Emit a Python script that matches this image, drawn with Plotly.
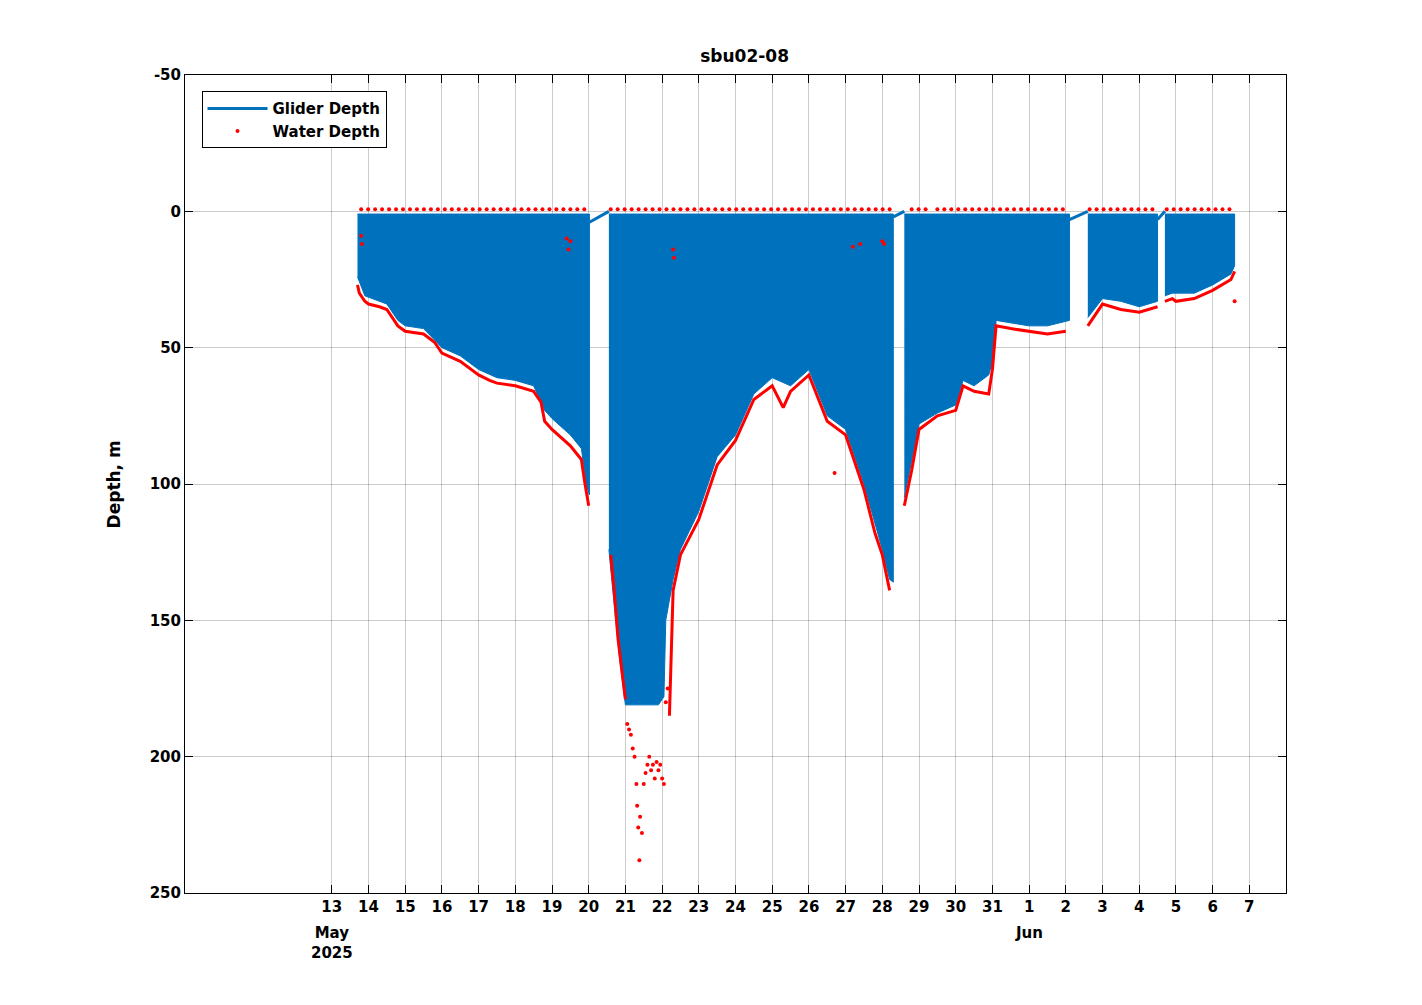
import numpy as np
import pandas as pd
import plotly.graph_objects as go

BASE = pd.Timestamp('2025-04-30')

# glider maximum dive depth per deployment segment (day of May, depth m); Jun d = 31 + d
glider_segments = [
    [(13.70, 24), (13.9, 31), (14.5, 34), (14.8, 40), (15.0, 42), (15.5, 43), (16.0, 50), (16.5, 53),
     (17.0, 58), (17.5, 61), (18.0, 62), (18.5, 64), (18.8, 73), (19.0, 76), (19.5, 82), (19.8, 87),
     (19.95, 101), (20.02, 104)],
    [(20.55, 124), (20.7, 145), (20.85, 165), (21.0, 181), (21.9, 181), (22.05, 178), (22.1, 150),
     (22.3, 135), (22.5, 124), (23.0, 110), (23.5, 90), (24.0, 82), (24.5, 67), (25.0, 61), (25.5, 64),
     (26.0, 58), (26.5, 75), (27.0, 80), (27.5, 100), (28.0, 124), (28.2, 135), (28.3, 136)],
    [(28.6, 105), (29.0, 78), (29.5, 74), (30.0, 71), (30.2, 62), (30.5, 64), (30.9, 60), (31.05, 53),
     (31.1, 40), (32.0, 42), (32.5, 42), (33.1, 40)],
    [(33.6, 39), (34.0, 32), (34.5, 33), (35.0, 35), (35.5, 33)],
    [(35.7, 31), (35.9, 30), (36.0, 30), (36.5, 30), (37.0, 27), (37.5, 23), (37.6, 20)],
]

# surface transits between segments (day, depth)
transit_days = [[20.02, 20.55], [28.3, 28.6], [33.1, 33.6], [35.5, 35.7]]
transit_depths = [[4, 0], [2, 0], [3, 0], [3, 0]]

# bottom (water depth) readings, one list per segment
water_days = [
    [13.7, 13.75, 13.9, 14.0, 14.3, 14.5, 14.8, 15.0, 15.5, 15.8, 16.0, 16.5, 17.0, 17.3, 17.5,
     18.0, 18.5, 18.7, 18.8, 19.0, 19.5, 19.8, 19.9, 20.0],
    [20.6, 20.7, 20.8, 20.9, 21.0],
    [22.2, 22.3, 22.5, 23.0, 23.5, 24.0, 24.5, 25.0, 25.3, 25.5, 26.0, 26.5,
     27.0, 27.5, 27.8, 28.0, 28.2],
    [28.6, 28.8, 29.0, 29.5, 30.0, 30.2, 30.5, 30.9, 31.0, 31.1, 31.5, 32.0, 32.5, 33.0],
    [33.6, 34.0, 34.5, 35.0, 35.5],
    [35.7, 35.9, 36.0, 36.5, 37.0, 37.5, 37.6],
]
water_depths = [
    [27, 30, 33, 34, 35, 36, 42, 44, 45, 48, 52, 55, 60, 62, 63,
     64, 66, 70, 77, 80, 86, 91, 100, 108],
    [126, 140, 157, 168, 179],
    [185, 139, 126, 113, 93, 84, 69, 64, 72, 66, 60, 77,
     82, 102, 118, 126, 139],
    [108, 95, 80, 75, 73, 64, 66, 67, 58, 42, 43, 44, 45, 44],
    [42, 34, 36, 37, 35],
    [33, 32, 33, 32, 29, 25, 22],
]

# scattered deep readings and stray readings
stray_days = [21.05, 21.1, 21.15, 21.2, 21.25, 21.3, 21.32, 21.35, 21.38, 21.4, 21.45, 21.5, 21.55,
              21.6, 21.65, 21.7, 21.75, 21.8, 21.85, 21.9, 21.95, 22.0, 22.05, 22.1, 22.15,
              13.8, 13.82, 19.4, 19.5, 19.45, 22.3, 22.32, 26.7, 27.2, 27.4, 28.0, 28.05, 37.6]
stray_depths = [188, 190, 192, 197, 200, 210, 218, 226, 238, 222, 228, 210, 206,
                203, 200, 205, 203, 208, 202, 205, 203, 208, 210, 180, 175,
                9, 12, 10, 11, 14, 14, 17, 96, 13, 12, 11, 12, 33]

# surface readings at each dive start (segment start, end, spacing in days)
surface_runs = [(13.8, 20.0, 0.19), (20.6, 28.3, 0.19), (28.8, 29.2, 0.19), (29.5, 33.0, 0.19),
                (33.65, 35.4, 0.19), (35.75, 37.6, 0.19)]


def to_dt(days):
    return [BASE + pd.Timedelta(days=float(d)) for d in days]


blue = '#0072BD'
fig = go.Figure()

px, py = [], []
for seg in glider_segments:
    d = [s[0] for s in seg]
    z = [s[1] for s in seg]
    px += to_dt(d) + to_dt(d[::-1]) + [None]
    py += [1] * len(d) + z[::-1] + [None]
fig.add_trace(go.Scatter(x=px, y=py, mode='lines', fill='toself', fillcolor=blue,
                         line=dict(color=blue, width=1), showlegend=False, hoverinfo='skip'))
for d, z in zip(transit_days, transit_depths):
    fig.add_trace(go.Scatter(x=to_dt(d), y=z, mode='lines', line=dict(color=blue, width=3),
                             showlegend=False))
fig.add_trace(go.Scatter(x=[None], y=[None], mode='lines', name='<b>Glider Depth</b>',
                         line=dict(color=blue, width=3)))

wx, wy = [], []
for d, z in zip(water_days, water_depths):
    wx += to_dt(d) + [None]
    wy += z + [None]
fig.add_trace(go.Scatter(x=wx, y=wy, mode='lines', showlegend=False,
                         line=dict(color='red', width=3), hoverinfo='skip'))

sd = np.concatenate([np.arange(a, b + 1e-6, s) for a, b, s in surface_runs])
all_days = list(stray_days) + list(sd)
all_depths = list(stray_depths) + [-0.8] * len(sd)
fig.add_trace(go.Scatter(x=to_dt(all_days), y=all_depths, mode='markers', name='<b>Water Depth</b>',
                         marker=dict(color='red', size=4)))

tick_days = list(range(13, 39))
tick_text = [str(d) if d <= 31 else str(d - 31) for d in tick_days]

font = dict(family='DejaVu Sans', size=15, color='black')
axis_common = dict(showline=True, linecolor='black', linewidth=1, mirror='ticks', ticks='inside',
                   ticklen=8, tickcolor='black', showgrid=True, gridcolor='rgba(0,0,0,0.2)',
                   zeroline=False, automargin=False,
                   tickfont=dict(family='DejaVu Sans', size=15, color='black'))
fig.update_layout(
    width=1422, height=1005, paper_bgcolor='white', plot_bgcolor='white',
    margin=dict(l=177, r=144, t=67, b=120, autoexpand=False),
    font=font,
    title=dict(text='<b>sbu02-08</b>', x=0.518, xanchor='center', y=0.958, yanchor='top',
               font=dict(family='DejaVu Sans', size=17, color='black')),
    xaxis=dict(axis_common, range=to_dt([9, 39]), tickvals=to_dt(tick_days),
               ticktext=['<b>%s</b>' % t for t in tick_text]),
    yaxis=dict(axis_common, range=[250, -50], tickvals=[-50, 0, 50, 100, 150, 200, 250],
               ticktext=['<b>%d</b>' % v for v in [-50, 0, 50, 100, 150, 200, 250]]),
    legend=dict(x=0.015, y=0.98, xanchor='left', yanchor='top', bordercolor='black', borderwidth=1,
                bgcolor='white', font=dict(family='DejaVu Sans', size=15, color='black'),
                tracegroupgap=0, itemwidth=60),
    annotations=[
        dict(x=to_dt([13])[0], y=-0.035, xref='x', yref='paper', yanchor='top', showarrow=False,
             text='<b>May</b><br><b>2025</b>', font=font),
        dict(x=to_dt([32])[0], y=-0.035, xref='x', yref='paper', yanchor='top', showarrow=False,
             text='<b>Jun</b>', font=font),
        dict(x=-0.075, y=0.5, xref='paper', yref='paper', textangle=-90, showarrow=False,
             text='<b>Depth, m</b>', font=dict(family='DejaVu Sans', size=17, color='black')),
    ],
)
fig.write_html('out.html')
